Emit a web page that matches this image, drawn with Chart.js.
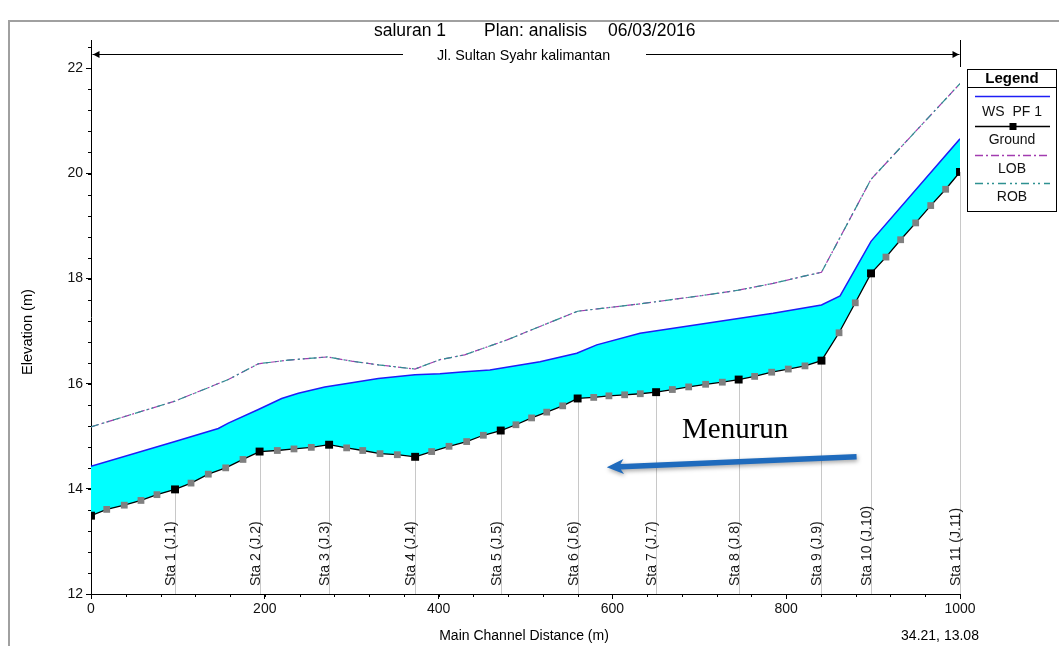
<!DOCTYPE html>
<html>
<head>
<meta charset="utf-8">
<title>saluran 1 - Plan: analisis</title>
<script src="https://cdn.jsdelivr.net/npm/chart.js@4"></script>
<style>
  html, body { margin: 0; padding: 0; background: #fff; }
  canvas { display: block; }
</style>
</head>
<body>
<canvas id="profile" width="1059" height="646"></canvas>
<script>
// ---- Profile data: saluran 1, plan "analisis" (PF 1) ----
// River stations with surveyed cross sections (distance along main channel, m)
const stationNames  = ['', 'Sta 1 (J.1)', 'Sta 2 (J.2)', 'Sta 3 (J.3)', 'Sta 4 (J.4)', 'Sta 5 (J.5)',
                       'Sta 6 (J.6)', 'Sta 7 (J.7)', 'Sta 8 (J.8)', 'Sta 9 (J.9)', 'Sta 10 (J.10)', 'Sta 11 (J.11)'];
const stationDist   = [0, 96.7, 194, 274, 373, 471.5, 560, 650.3, 745.3, 840.6, 897.6, 1000];
const stationGround = [13.49, 13.99, 14.71, 14.84, 14.61, 15.11, 15.72, 15.84, 16.08, 16.44, 18.10, 20.03];

// Interpolated cross sections between stations
const interpDist   = [18.1, 38.3, 57.5, 75.9, 115.1, 135, 155, 174.9, 214.4, 233.6, 253.5,
                      294.2, 312.7, 332.6, 352.5, 392, 412, 432.3, 451.5, 489, 507, 524.4, 542.8,
                      578.5, 596, 614.1, 632.1, 669, 687.8, 707.3, 726.5, 763.7, 783.3, 802.4, 821.6,
                      860.8, 879.5, 914.8, 931.7, 949, 966.3, 983.5];
const interpGround = [13.61, 13.69, 13.78, 13.89, 14.11, 14.28, 14.40, 14.56, 14.73, 14.76, 14.79,
                      14.78, 14.73, 14.67, 14.65, 14.71, 14.81, 14.90, 15.02, 15.22, 15.35, 15.46, 15.58,
                      15.74, 15.77, 15.79, 15.81, 15.89, 15.94, 15.99, 16.03, 16.14, 16.22, 16.28, 16.34,
                      16.97, 17.54, 18.41, 18.74, 19.06, 19.39, 19.70];

// Water surface, profile PF 1
const wsDist = [0, 96.7, 146.5, 158, 192.6, 219.4, 238.6, 269, 300, 330.6, 372.8, 401.6, 430, 459,
                516.7, 559, 582, 631.8, 708.5, 785, 840.6, 862, 897.6, 1000];
const wsElev = [14.43, 14.90, 15.15, 15.25, 15.51, 15.72, 15.82, 15.94, 16.02, 16.10, 16.17, 16.19, 16.23, 16.26,
                16.42, 16.58, 16.74, 16.96, 17.15, 17.34, 17.50, 17.67, 18.71, 20.66];

// Left / right overbank elevations
const bankDist = [0, 96.7, 158, 192.6, 227, 272, 300, 330.6, 372.8, 401.6, 430, 478, 516.7, 560,
                  631.8, 708.5, 745, 785, 816, 840.6, 897.6, 1000];
const lobElev  = [15.18, 15.67, 16.08, 16.38, 16.45, 16.51, 16.43, 16.36, 16.28, 16.46, 16.55, 16.83, 17.09, 17.38,
                  17.52, 17.69, 17.78, 17.91, 18.03, 18.12, 19.89, 21.71];
const robElev  = [15.18, 15.67, 16.08, 16.38, 16.45, 16.51, 16.43, 16.36, 16.28, 16.46, 16.55, 16.83, 17.09, 17.38,
                  17.52, 17.69, 17.78, 17.91, 18.03, 18.12, 19.89, 21.71];

// Axis tick labels
const xTickValues = [0, 200, 400, 600, 800, 1000];
const yTickValues = [12, 14, 16, 18, 20, 22];

// ---- Styling ----
const FONT = "'Liberation Sans', Arial, Helvetica, sans-serif";
const SERIF = "'Liberation Serif', 'Times New Roman', serif";
const MINOR_X = 40, MINOR_Y = 0.4;
const C_WS = '#1e1ef5', C_FILL = '#00ffff', C_LOB = '#a23cb0', C_ROB = '#2e9191';

const toPoints = (xs, ys) => xs.map((d, i) => ({ x: d, y: ys[i] }));
const groundPoints = stationDist.map((d, i) => ({ x: d, y: stationGround[i], station: true }))
  .concat(interpDist.map((d, i) => ({ x: d, y: interpGround[i], station: false })))
  .sort((a, b) => a.x - b.x);

function drawRect(ctx, cx, cy, side, color) {
  ctx.fillStyle = color;
  ctx.fillRect(cx - side / 2, cy - side / 2, side, side);
}

// Frame, titles, banner, station labels, legend and annotation
const profileDecor = {
  id: 'profileDecor',
  beforeDatasetsDraw(chart) {
    const { ctx, chartArea: a, scales: { x, y } } = chart;
    ctx.save();
    ctx.strokeStyle = '#c8c8c8';
    ctx.lineWidth = 1;
    stationDist.forEach((d, i) => {
      if (!stationNames[i]) return;
      const px = Math.round(x.getPixelForValue(d)) + 0.5;
      ctx.beginPath();
      ctx.moveTo(px, y.getPixelForValue(stationGround[i]));
      ctx.lineTo(px, a.bottom);
      ctx.stroke();
    });
    ctx.restore();
  },
  afterDatasetsDraw(chart) {
    const { ctx, scales: { x, y } } = chart;
    ctx.save();
    // station names, rotated along the gauge lines
    ctx.fillStyle = '#1a1a1a';
    ctx.font = `14px ${FONT}`;
    ctx.textAlign = 'left';
    ctx.textBaseline = 'alphabetic';
    stationDist.forEach((d, i) => {
      if (!stationNames[i]) return;
      const px = Math.round(x.getPixelForValue(d));
      ctx.save();
      ctx.translate(px - 0.5, 586);
      ctx.rotate(-Math.PI / 2);
      ctx.fillText(stationNames[i], 0, 0);
      ctx.restore();
    });

    // flow direction note
    ctx.fillStyle = '#000';
    ctx.font = `29px ${SERIF}`;
    ctx.fillText('Menurun', 682, 438);

    const tail = { x: x.getPixelForValue(881), y: y.getPixelForValue(14.61) };
    const tip = { x: x.getPixelForValue(593.5), y: y.getPixelForValue(14.41) };
    const dx = tip.x - tail.x, dy = tip.y - tail.y, len = Math.hypot(dx, dy);
    const ux = dx / len, uy = dy / len, nx = -uy, ny = ux;
    const headL = 17, headW = 7.5, half = 2.7, notch = 3;
    const bx = tip.x - ux * headL, by = tip.y - uy * headL;
    ctx.shadowColor = 'rgba(0,0,0,0.35)';
    ctx.shadowBlur = 4;
    ctx.shadowOffsetX = 1;
    ctx.shadowOffsetY = 2;
    ctx.fillStyle = '#1f6bbd';
    ctx.beginPath();
    ctx.moveTo(tail.x + nx * half, tail.y + ny * half);
    ctx.lineTo(bx + ux * notch + nx * half, by + uy * notch + ny * half);
    ctx.lineTo(bx + nx * headW, by + ny * headW);
    ctx.lineTo(tip.x, tip.y);
    ctx.lineTo(bx - nx * headW, by - ny * headW);
    ctx.lineTo(bx + ux * notch - nx * half, by + uy * notch - ny * half);
    ctx.lineTo(tail.x - nx * half, tail.y - ny * half);
    ctx.closePath();
    ctx.fill();
    ctx.restore();
  },
  afterDraw(chart) {
    const { ctx, chartArea: a, scales: { x, y } } = chart;
    ctx.save();

    // outer frame
    ctx.strokeStyle = '#a0a0a0';
    ctx.lineWidth = 2;
    ctx.strokeRect(9, 21, 1200, 800);

    // minor ticks
    ctx.strokeStyle = '#000';
    ctx.lineWidth = 1;
    ctx.beginPath();
    for (let v = x.min; v <= x.max + 1e-6; v += MINOR_X) {
      const px = Math.round(x.getPixelForValue(v)) + 0.5;
      ctx.moveTo(px, a.bottom);
      ctx.lineTo(px, a.bottom + 3);
    }
    for (let v = y.min; v <= y.max + 1e-6; v += MINOR_Y) {
      const py = Math.round(y.getPixelForValue(v)) + 0.5;
      ctx.moveTo(a.left, py);
      ctx.lineTo(a.left - 3, py);
    }
    ctx.stroke();

    // title
    ctx.fillStyle = '#000';
    ctx.font = `17.5px ${FONT}`;
    ctx.textAlign = 'left';
    ctx.textBaseline = 'alphabetic';
    ctx.fillText('saluran 1', 374, 36);
    ctx.fillText('Plan: analisis', 484, 36);
    ctx.fillText('06/03/2016', 608, 36);

    // reach banner
    const r0 = Math.round(x.getPixelForValue(stationDist[0])) + 0.5;
    const r1 = Math.round(x.getPixelForValue(stationDist[stationDist.length - 1])) + 0.5;
    const by = 54.5;
    ctx.beginPath();
    ctx.moveTo(r0, a.top); ctx.lineTo(r0, 67);
    ctx.moveTo(r1, a.top); ctx.lineTo(r1, 67);
    ctx.moveTo(r0 + 1, by); ctx.lineTo(403, by);
    ctx.moveTo(646, by); ctx.lineTo(r1 - 1, by);
    ctx.stroke();
    ctx.beginPath();
    ctx.moveTo(r0 + 1.5, by); ctx.lineTo(r0 + 8, by - 3.5); ctx.lineTo(r0 + 8, by + 3.5); ctx.closePath();
    ctx.moveTo(r1 - 1.5, by); ctx.lineTo(r1 - 8, by - 3.5); ctx.lineTo(r1 - 8, by + 3.5); ctx.closePath();
    ctx.fill();
    ctx.font = `14.3px ${FONT}`;
    ctx.textAlign = 'center';
    ctx.fillText('Jl. Sultan Syahr kalimantan', 523.5, 60);

    // axis titles and cursor readout
    ctx.font = `14px ${FONT}`;
    ctx.textBaseline = 'middle';
    ctx.fillText('Main Channel Distance (m)', 524, 636);
    ctx.fillText('34.21, 13.08', 940, 636);
    ctx.save();
    ctx.translate(31.5, 332);
    ctx.rotate(-Math.PI / 2);
    ctx.textBaseline = 'alphabetic';
    ctx.font = `14.6px ${FONT}`;
    ctx.fillText('Elevation (m)', 0, 0);
    ctx.restore();

    // legend box
    const L = { left: 967.5, top: 69.5, w: 89, h: 142, sep: 87.5 };
    const cx = L.left + L.w / 2;
    ctx.fillStyle = '#fff';
    ctx.fillRect(L.left, L.top, L.w, L.h);
    ctx.strokeStyle = '#000';
    ctx.lineWidth = 1;
    ctx.strokeRect(L.left, L.top, L.w, L.h);
    ctx.beginPath();
    ctx.moveTo(L.left, L.sep); ctx.lineTo(L.left + L.w, L.sep);
    ctx.stroke();
    ctx.fillStyle = '#000';
    ctx.font = `bold 15px ${FONT}`;
    ctx.textAlign = 'center';
    ctx.textBaseline = 'middle';
    ctx.fillText('Legend', cx, 79);

    const rows = [
      { ds: 1, lineY: 96.5, textY: 112 },
      { ds: 0, lineY: 126.5, textY: 140.5 },
      { ds: 3, lineY: 155.5, textY: 169 },
      { ds: 2, lineY: 183.5, textY: 197 }
    ];
    ctx.font = `14px ${FONT}`;
    rows.forEach(r => {
      const ds = chart.data.datasets[r.ds];
      ctx.save();
      ctx.strokeStyle = ds.borderColor;
      ctx.lineWidth = 1.5;
      ctx.setLineDash(ds.borderDash || []);
      ctx.beginPath();
      ctx.moveTo(975, r.lineY); ctx.lineTo(1050, r.lineY);
      ctx.stroke();
      ctx.restore();
      if (ds.legendMarker) drawRect(ctx, cx + 1, r.lineY, 7, '#000');
      ctx.fillStyle = '#111';
      ctx.fillText(ds.label, cx, r.textY);
    });

    ctx.restore();
  }
};

const axisCommon = {
  type: 'linear',
  grid: { drawOnChartArea: false, drawTicks: true, tickLength: 5, tickColor: '#000', tickWidth: 1 },
  border: { display: true, color: '#000', width: 1 },
  ticks: { color: '#111', font: { size: 14, family: FONT }, autoSkip: false, maxRotation: 0,
           callback: v => String(v) }
};

new Chart(document.getElementById('profile'), {
  type: 'line',
  data: {
    datasets: [
      {
        label: 'Ground',
        data: groundPoints,
        borderColor: '#000',
        borderWidth: 1.3,
        fill: false,
        pointStyle: 'rect',
        pointRadius: c => (c.raw && c.raw.station ? 5.6 : 4.8),
        pointBackgroundColor: c => (c.raw && c.raw.station ? '#000' : '#808080'),
        pointBorderWidth: 0,
        legendMarker: true
      },
      {
        label: 'WS  PF 1',
        data: toPoints(wsDist, wsElev),
        borderColor: C_WS,
        borderWidth: 1.5,
        backgroundColor: C_FILL,
        fill: { target: 0, above: C_FILL, below: C_FILL },
        pointRadius: 0
      },
      {
        label: 'ROB',
        data: toPoints(bankDist, robElev),
        borderColor: C_ROB,
        borderWidth: 1.2,
        borderDash: [8, 4, 2, 3, 2, 4],
        fill: false,
        pointRadius: 0
      },
      {
        label: 'LOB',
        data: toPoints(bankDist, lobElev),
        borderColor: C_LOB,
        borderWidth: 1.2,
        borderDash: [8, 3, 2, 3],
        fill: false,
        pointRadius: 0
      }
    ]
  },
  options: {
    responsive: false,
    animation: false,
    devicePixelRatio: 1,
    events: [],
    layout: { padding: { top: 40, right: 99, bottom: 0, left: 0 } },
    plugins: {
      legend: { display: false },
      title: { display: false },
      tooltip: { enabled: false },
      filler: { drawTime: 'beforeDatasetsDraw' }
    },
    scales: {
      x: {
        ...axisCommon,
        min: 0,
        max: 1000,
        ticks: { ...axisCommon.ticks, padding: 2 },
        afterBuildTicks: s => { s.ticks = xTickValues.map(v => ({ value: v })); },
        afterFit: s => { s.height = 52; }
      },
      y: {
        ...axisCommon,
        min: 12,
        max: 22.54,
        ticks: { ...axisCommon.ticks, padding: 3 },
        afterBuildTicks: s => { s.ticks = yTickValues.map(v => ({ value: v })); },
        afterFit: s => { s.width = 91; }
      }
    }
  },
  plugins: [profileDecor]
});
</script>
</body>
</html>
